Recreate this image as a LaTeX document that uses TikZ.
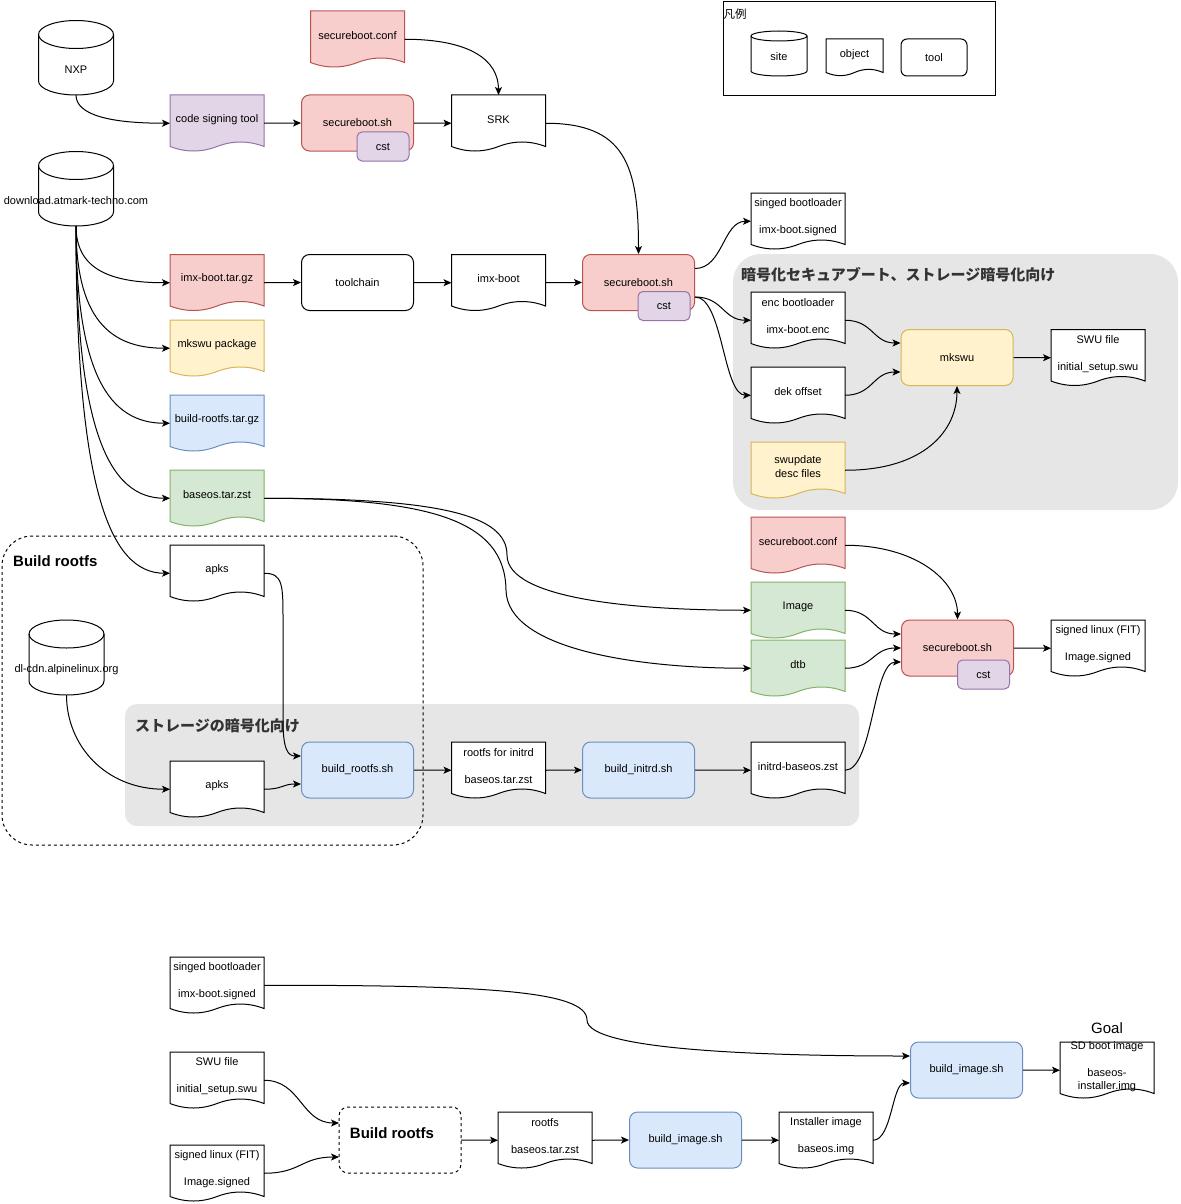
\documentclass[tikz,border=0pt]{standalone}
\usepackage{fontspec}
\setmainfont{Liberation Sans}
\newfontfamily\jpfont{Noto Sans CJK JP}
\usetikzlibrary{arrows.meta}
\definecolor{redF}{HTML}{F8CECC}\definecolor{redD}{HTML}{B85450}
\definecolor{purF}{HTML}{E1D5E7}\definecolor{purD}{HTML}{9673A6}
\definecolor{yelF}{HTML}{FFF2CC}\definecolor{yelD}{HTML}{D6B656}
\definecolor{bluF}{HTML}{DAE8FC}\definecolor{bluD}{HTML}{6C8EBF}
\definecolor{grnF}{HTML}{D5E8D4}\definecolor{grnD}{HTML}{82B366}
\definecolor{bgGray}{HTML}{E6E6E6}
\definecolor{ttlGray}{HTML}{333333}
\tikzset{
  lbl/.style={font=\fontsize{11}{13.5}\selectfont, inner sep=0pt, align=center, text=black},
  anchorbox/.style={rectangle, inner sep=0pt, outer sep=0pt, draw=none},
  docline/.style={line width=1pt},
  cRed/.style={fill=redF, draw=redD},
  cPur/.style={fill=purF, draw=purD},
  cYel/.style={fill=yelF, draw=yelD},
  cBlu/.style={fill=bluF, draw=bluD},
  cGrn/.style={fill=grnF, draw=grnD},
  cWht/.style={fill=white, draw=black},
  toolbox/.style={rectangle, rounded corners=8pt, line width=1pt, minimum width=112pt, minimum height=56pt, inner sep=0pt, font=\fontsize{11}{13.5}\selectfont, align=center},
  cstbox/.style={toolbox, cPur, minimum width=52pt, minimum height=29pt, rounded corners=5pt},
  conn/.style={draw=black, line width=1pt, -{Stealth[length=8pt, width=7pt, inset=2pt]}},
  dashline/.style={draw=black, line width=1pt, dash pattern=on 3pt off 3pt},
  ttlJ/.style={font=\jpfont\bfseries\fontsize{15}{18}\selectfont, text=ttlGray, inner sep=0pt, anchor=west},
  ttlB/.style={font=\bfseries\fontsize{15}{18}\selectfont, text=black, inner sep=0pt},
}
% document shape: name, x, y, w, h, wave, style, text
\newcommand{\Doc}[8]{%
  \begin{scope}[shift={(#2,#3)}]
    \path[docline,#7] (0,0) -- (#4,0) -- (#4,{#5-0.5*#6})
      .. controls ({#4*5/6},{#5-1.1*#6}) and ({#4*2/3},{#5-1.1*#6}) .. ({#4/2},{#5-0.5*#6})
      .. controls ({#4/3},{#5+0.1*#6}) and ({#4/6},{#5+0.1*#6}) .. (0,{#5-0.5*#6}) -- cycle;
  \end{scope}
  \node[anchorbox, minimum width={#4pt}, minimum height={#5pt}] (#1) at ({#2+#4/2},{#3+#5/2}) {};
  \node[lbl] (#1-t) at ({#2+#4/2},{#3+0.434*#5}) {#8};
}
% cylinder: name, x, y, w, h, r, text
\newcommand{\Cyl}[7]{%
  \begin{scope}[shift={(#2,#3)}]
    \path[fill=white, draw=black, line width=1pt] (0,#6)
      .. controls (0,{#6*0.4477}) and ({#4*0.2238},0) .. ({#4/2},0)
      .. controls ({#4*0.7762},0) and (#4,{#6*0.4477}) .. (#4,#6)
      -- (#4,{#5-#6})
      .. controls (#4,{#5-#6*0.4477}) and ({#4*0.7762},#5) .. ({#4/2},#5)
      .. controls ({#4*0.2238},#5) and (0,{#5-#6*0.4477}) .. (0,{#5-#6}) -- cycle;
    \draw[line width=1pt] (0,#6)
      .. controls (0,{#6*1.5523}) and ({#4*0.2238},{2*#6}) .. ({#4/2},{2*#6})
      .. controls ({#4*0.7762},{2*#6}) and (#4,{#6*1.5523}) .. (#4,#6);
  \end{scope}
  \node[anchorbox, minimum width={#4pt}, minimum height={#5pt}] (#1) at ({#2+#4/2},{#3+#5/2}) {};
  \node[lbl] (#1-t) at ({#2+#4/2},{#3+(2*#6+#5)/2-2}) {#7};
}
\begin{document}
\begin{tikzpicture}[x=1pt,y=-1pt]
\fill[white] (0,0) rectangle (1180,1204);
\path[use as bounding box] (0,0) rectangle (1180,1204);

% ---------- regions ----------
\node[anchorbox, fill=bgGray, rounded corners=28pt, minimum width=445pt, minimum height=256pt] (encregion) at (955.5,382) {};
\node[anchorbox, fill=bgGray, rounded corners=12pt, minimum width=734pt, minimum height=122pt] (stregion) at (492,765) {};
\node[anchorbox, dashline, rounded corners=30pt, minimum width=421pt, minimum height=309pt] (brregion) at (212.5,690.5) {};
\node[anchorbox, draw=black, line width=1pt, minimum width=272pt, minimum height=93.5pt] (legend) at (859,48.75) {};

\node[ttlJ] (encttl) at (741,275) {暗号化セキュアブート、ストレージ暗号化向け};
\node[ttlJ] (stttl) at (135,726) {ストレージの暗号化向け};
\node[ttlB, anchor=west] (brttl) at (13,561) {Build rootfs};
\node[inner sep=0pt, anchor=west, font=\jpfont\fontsize{11.5}{13}\selectfont] (legttl) at (723.5,14) {凡例};
\node[inner sep=0pt, font=\fontsize{15}{18}\selectfont] (goal) at (1107,1028) {Goal};

% ---------- legend ----------
\Cyl{lsite}{751}{31}{56}{45}{5}{site}
\Doc{lobj}{826}{39}{57}{37}{7}{cWht}{object}
\node[toolbox, cWht, minimum width=66pt, minimum height=37pt, rounded corners=6pt] (ltool) at (934,57.5) {tool};

% ---------- cylinders ----------
\Cyl{nxp}{38.5}{20.5}{75}{74.5}{14}{NXP}
\Cyl{dl}{38.5}{151.5}{75}{74.5}{14}{download.atmark-techno.com}
\Cyl{alp}{29}{620}{75}{75}{14}{dl-cdn.alpinelinux.org}

% ---------- documents ----------
\Doc{sbconf1}{310.5}{11}{94}{56.5}{10}{cRed}{secureboot.conf}
\Doc{cstool}{170}{95}{94}{56.5}{10}{cPur}{code signing tool}
\Doc{srk}{451.5}{95}{94}{56.5}{10}{cWht}{SRK}
\Doc{imxtar}{170}{254.5}{94}{56.5}{10}{cRed}{imx-boot.tar.gz}
\Doc{imxboot}{451.5}{254.5}{94}{56.5}{10}{cWht}{imx-boot}
\Doc{sbl1}{751}{193}{94}{56.5}{10}{cWht}{singed bootloader\\[13.5pt]imx-boot.signed}
\Doc{encbl}{751}{292}{94}{56.5}{10}{cWht}{enc bootloader\\[13.5pt]imx-boot.enc}
\Doc{dek}{751}{367}{94}{56.5}{10}{cWht}{dek offset}
\Doc{swdesc}{751}{442}{94}{56.5}{10}{cYel}{swupdate\\desc files}
\Doc{swu1}{1051}{329.5}{94}{56.5}{10}{cWht}{SWU file\\[13.5pt]initial\_setup.swu}
\Doc{mkpkg}{170}{320}{94}{56.5}{10}{cYel}{mkswu package}
\Doc{brtar}{170}{395}{94}{56.5}{10}{cBlu}{build-rootfs.tar.gz}
\Doc{baseos}{170}{470}{94}{56.5}{10}{cGrn}{baseos.tar.zst}
\Doc{apksa}{170}{545}{94}{56.5}{10}{cWht}{apks}
\Doc{apksb}{170}{761}{94}{56.5}{10}{cWht}{apks}
\Doc{rfinit}{451.5}{742}{94}{56.5}{10}{cWht}{rootfs for initrd\\[13.5pt]baseos.tar.zst}
\Doc{initrd}{751}{742}{94}{56.5}{10}{cWht}{initrd-baseos.zst}
\Doc{sbconf2}{751}{517}{94}{56.5}{10}{cRed}{secureboot.conf}
\Doc{image}{751}{582}{94}{56.5}{10}{cGrn}{Image}
\Doc{dtb}{751}{640}{94}{56.5}{10}{cGrn}{dtb}
\Doc{sla}{1051}{620}{94}{56.5}{10}{cWht}{signed linux (FIT)\\[13.5pt]Image.signed}
\Doc{sblb}{170}{957}{94}{56.5}{10}{cWht}{singed bootloader\\[13.5pt]imx-boot.signed}
\Doc{swub}{170}{1052}{94}{56.5}{10}{cWht}{SWU file\\[13.5pt]initial\_setup.swu}
\Doc{slb}{170}{1145}{94}{56.5}{10}{cWht}{signed linux (FIT)\\[13.5pt]Image.signed}
\Doc{rootfs}{498}{1112}{94}{56.5}{10}{cWht}{rootfs\\[13.5pt]baseos.tar.zst}
\Doc{inst}{779}{1112}{94}{56.5}{10}{cWht}{Installer image\\[13.5pt]baseos.img}
\Doc{sdboot}{1060}{1042}{94}{56.5}{10}{cWht}{SD boot image\\[13.5pt]baseos-\\installer.img}

% ---------- tools ----------
\node[toolbox, cRed] (sba) at (357.5,123) {secureboot.sh};
\node[cstbox] (csta) at (383,146.5) {cst};
\node[toolbox, cWht] (tchain) at (357.5,282.5) {toolchain};
\node[toolbox, cRed] (sbb) at (638.5,282.5) {secureboot.sh};
\node[cstbox] (cstb) at (664,306) {cst};
\node[toolbox, cYel] (mkswu) at (957,357.5) {mkswu};
\node[toolbox, cBlu] (brsh) at (357.5,770) {build\_rootfs.sh};
\node[toolbox, cBlu] (bish) at (638.5,770) {build\_initrd.sh};
\node[toolbox, cRed] (sbc) at (957.5,648) {secureboot.sh};
\node[cstbox] (cstc) at (983.5,674.5) {cst};
\node[toolbox, cBlu] (bimga) at (685.5,1140) {build\_image.sh};
\node[toolbox, cBlu] (bimgb) at (966.5,1070) {build\_image.sh};
\node[anchorbox, fill=white, dashline, rounded corners=9pt, minimum width=122pt, minimum height=66pt] (brbox) at (400,1140) {};
\node[ttlB] (brbox-t) at (392,1133) {Build rootfs};

% ---------- connectors ----------
\draw[conn] (nxp.south) .. controls (76,115) and (110,123.25) .. (cstool.west);
\draw[conn] (cstool.east) -- (sba.west);
\draw[conn] (sba.east) -- (srk.west);
\draw[conn] (sbconf1.east) .. controls (470,39.25) and (498.5,60) .. (srk.north);
\draw[conn] (srk.east) .. controls (625,123.25) and (638.5,165) .. (sbb.north);

\draw[conn] (dl.south) .. controls (76,268.6) and (109,282.75) .. (imxtar.west);
\draw[conn] (dl.south) .. controls (76,317.7) and (109,348.25) .. (mkpkg.west);
\draw[conn] (dl.south) .. controls (76,373.9) and (109,423.25) .. (brtar.west);
\draw[conn] (dl.south) .. controls (76,430.2) and (109,498.25) .. (baseos.west);
\draw[conn] (dl.south) .. controls (76,486.4) and (109,573.25) .. (apksa.west);

\draw[conn] (imxtar.east) -- (tchain.west);
\draw[conn] (tchain.east) -- (imxboot.west);
\draw[conn] (imxboot.east) -- (sbb.west);

\draw[conn] ([yshift=14pt]sbb.east) .. controls (723,268.5) and (723,221.25) .. (sbl1.west);
\draw[conn] ([yshift=-14.5pt]sbb.east) .. controls (723,297) and (723,320.25) .. (encbl.west);
\draw[conn] ([yshift=-14.5pt]sbb.east) .. controls (723,297) and (723,395.25) .. (dek.west);
\draw[conn] (encbl.east) .. controls (873,320.25) and (873,343) .. ([yshift=14.5pt]mkswu.west);
\draw[conn] (dek.east) .. controls (873,395.25) and (873,372) .. ([yshift=-14.5pt]mkswu.west);
\draw[conn] (swdesc.east) .. controls (925,470.25) and (957,430) .. (mkswu.south);
\draw[conn] (mkswu.east) -- (swu1.west);

\draw[conn] (baseos.east) .. controls (440,498.25) and (507,515) .. (507,555) .. controls (507,600) and (640,610.25) .. (image.west);
\draw[conn] (baseos.east) .. controls (430,498.25) and (505,520) .. (506,590) .. controls (507,650) and (640,668.25) .. (dtb.west);
\draw[conn] (sbconf2.east) .. controls (915,545.25) and (957.5,580) .. (sbc.north);
\draw[conn] (image.east) .. controls (873,610.25) and (873,634) .. ([yshift=14pt]sbc.west);
\draw[conn] (dtb.east) .. controls (873,668.25) and (873,648) .. (sbc.west);
\draw[conn] (initrd.east) .. controls (873,770.25) and (873,662) .. ([yshift=-14pt]sbc.west);
\draw[conn] (sbc.east) -- (sla.west);

\draw[conn] (apksa.east) .. controls (283,573.25) and (283,585) .. (283,620) -- (283,720) .. controls (283,750) and (288,756) .. ([yshift=14pt]brsh.west);
\draw[conn] (alp.south) .. controls (66.5,745) and (105,789.25) .. (apksb.west);
\draw[conn] (apksb.east) .. controls (283,789.25) and (282,784) .. ([yshift=-14pt]brsh.west);
\draw[conn] (brsh.east) -- (rfinit.west);
\draw[conn] (rfinit.east) -- (bish.west);
\draw[conn] (bish.east) -- (initrd.west);

\draw[conn] (sblb.east) .. controls (480,985.25) and (587,990) .. (587,1020) .. controls (587,1050) and (760,1056) .. ([yshift=14pt]bimgb.west);
\draw[conn] (swub.east) .. controls (301,1080.25) and (301,1123) .. ([yshift=17pt]brbox.west);
\draw[conn] (slb.east) .. controls (301,1173.25) and (301,1157) .. ([yshift=-17pt]brbox.west);
\draw[conn] (brbox.east) -- (rootfs.west);
\draw[conn] (rootfs.east) -- (bimga.west);
\draw[conn] (bimga.east) -- (inst.west);
\draw[conn] (inst.east) .. controls (892,1140.25) and (892,1083) .. ([yshift=-13pt]bimgb.west);
\draw[conn] (bimgb.east) -- (sdboot.west);
\end{tikzpicture}
\end{document}
